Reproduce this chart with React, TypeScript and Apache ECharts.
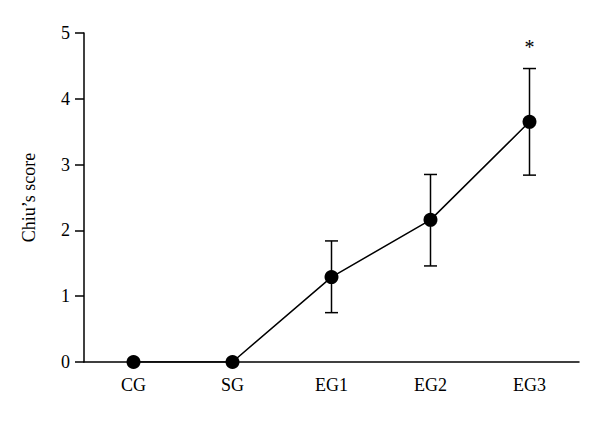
import React, { useEffect, useRef } from "react";
import * as echarts from "echarts";

const categories = ["CG", "SG", "EG1", "EG2", "EG3"];
const means = [0, 0, 1.29, 2.16, 3.65];
const lowerBounds = [0, 0, 0.75, 1.46, 2.84];
const upperBounds = [0, 0, 1.84, 2.85, 4.46];
const significance = ["", "", "", "", "*"];
const yTicks = [0, 1, 2, 3, 4, 5];

const FONT = "Liberation Serif";

export default function App() {
  const ref = useRef<HTMLDivElement>(null);
  useEffect(() => {
    if (!ref.current) return;
    const chart = echarts.init(ref.current, null, { renderer: "svg" });
    const errData = categories.map((_, i) => [i, lowerBounds[i], upperBounds[i], significance[i]]);
    chart.setOption({
      animation: false,
      backgroundColor: "#ffffff",
      textStyle: { fontFamily: FONT, fontSize: 18 },
      grid: { left: 84, right: 21, top: 33, bottom: 60 },
      xAxis: {
        type: "category",
        data: categories,
        boundaryGap: true,
        axisLine: { lineStyle: { color: "#000", width: 1.5 } },
        axisTick: { alignWithLabel: true, length: 8, lineStyle: { color: "#000", width: 1.5 } },
        axisLabel: { color: "#000", fontFamily: FONT, fontSize: 18, margin: 14 },
      },
      yAxis: {
        type: "value",
        min: yTicks[0],
        max: yTicks[yTicks.length - 1],
        interval: 1,
        name: "Chiu\u2019s score",
        nameLocation: "middle",
        nameGap: 46,
        nameRotate: 90,
        nameTextStyle: { color: "#000", fontFamily: FONT, fontSize: 18 },
        splitLine: { show: false },
        axisLine: { show: true, lineStyle: { color: "#000", width: 1.5 } },
        axisTick: { show: true, length: 9, lineStyle: { color: "#000", width: 1.5 } },
        axisLabel: { color: "#000", fontFamily: FONT, fontSize: 18, margin: 14 },
      },
      series: [
        {
          type: "custom",
          data: errData,
          z: 1,
          renderItem: (params: any, api: any) => {
            const x = api.value(0);
            const lo = api.value(1);
            const hi = api.value(2);
            const mark = errData[params.dataIndex][3] as string;
            const pLo = api.coord([x, lo]);
            const pHi = api.coord([x, hi]);
            const cap = 6.5;
            const style = { stroke: "#000", lineWidth: 1.5 };
            const children: any[] = [];
            if (hi > lo) {
              children.push(
                { type: "line", shape: { x1: pLo[0], y1: pLo[1], x2: pHi[0], y2: pHi[1] }, style },
                { type: "line", shape: { x1: pHi[0] - cap, y1: pHi[1], x2: pHi[0] + cap, y2: pHi[1] }, style },
                { type: "line", shape: { x1: pLo[0] - cap, y1: pLo[1], x2: pLo[0] + cap, y2: pLo[1] }, style }
              );
            }
            if (mark) {
              children.push({
                type: "text",
                x: pHi[0],
                y: pHi[1] - 12,
                style: {
                  text: mark,
                  align: "center",
                  verticalAlign: "bottom",
                  fill: "#000",
                  fontFamily: FONT,
                  fontSize: 20,
                },
              });
            }
            return { type: "group", children };
          },
        },
        {
          type: "line",
          data: means,
          z: 2,
          symbol: "circle",
          symbolSize: 14,
          itemStyle: { color: "#000" },
          lineStyle: { color: "#000", width: 1.5 },
        },
      ],
    });
    return () => chart.dispose();
  }, []);
  return <div ref={ref} style={{ width: 600, height: 422, margin: -8 }} />;
}
